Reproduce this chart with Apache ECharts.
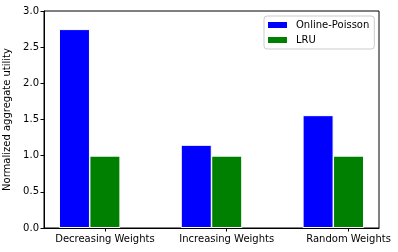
<!DOCTYPE html>
<html>
<head>
<meta charset="utf-8">
<script src="https://cdn.jsdelivr.net/npm/echarts@6/dist/echarts.min.js"></script>
<style>html,body{margin:0;padding:0;background:#fff}#c{width:398px;height:252px}</style>
</head>
<body>
<div id="c"></div>
<script>
const categories = ['Decreasing Weights', 'Increasing Weights', 'Random Weights'];
const seriesNames = ['Online-Poisson', 'LRU'];
const onlinePoisson = [2.75, 1.15, 1.56];
const lru = [1.0, 1.0, 1.0];
const yTickValues = [0, 0.5, 1.0, 1.5, 2.0, 2.5, 3.0];
const yLabel = 'Normalized aggregate utility';

const FONT = 'DejaVu Sans';
const chart = echarts.init(document.getElementById('c'), null, {renderer: 'canvas'});
const catPos = categories.map((c, i) => i);
chart.setOption({
  animation: false,
  backgroundColor: '#fff',
  grid: {left: 44, right: 19, top: 11, bottom: 24, show: true, borderColor: '#000', borderWidth: 1,
         backgroundColor: 'transparent', containLabel: false, outerBoundsMode: 'none'},
  legend: {
    orient: 'vertical', left: 264, top: 16,
    padding: [3, 5, 3, 4],
    itemWidth: 19, itemHeight: 6, itemGap: 3,
    borderColor: '#cccccc', borderWidth: 1, borderRadius: 3,
    icon: 'rect',
    itemStyle: {borderWidth: 0},
    textStyle: {fontFamily: FONT, fontSize: 10, color: '#000', lineHeight: 12, padding: [0, 0, 0, 4]},
    data: seriesNames
  },
  xAxis: {
    type: 'value', min: -0.5, max: 2.25,
    axisLine: {show: true, onZero: false, lineStyle: {color: '#000', width: 1}},
    axisTick: {show: true, length: 3.5, lineStyle: {color: '#000'}, customValues: catPos},
    axisLabel: {show: true, customValues: catPos, margin: 6, fontFamily: FONT, fontSize: 10, color: '#000',
      formatter: v => categories[Math.round(v)]},
    splitLine: {show: false}
  },
  yAxis: {
    type: 'value', min: yTickValues[0], max: yTickValues[yTickValues.length - 1], interval: 0.5,
    name: yLabel, nameLocation: 'middle', nameGap: 27,
    nameTextStyle: {fontFamily: FONT, fontSize: 10, color: '#000'},
    axisLine: {show: true, onZero: false, lineStyle: {color: '#000', width: 1}},
    axisTick: {show: true, length: 3.5, lineStyle: {color: '#000'}},
    axisLabel: {margin: 5, fontFamily: FONT, fontSize: 10, color: '#000', formatter: v => v.toFixed(1)},
    splitLine: {show: false}
  },
  series: [
    {name: seriesNames[0], type: 'bar', barWidth: 31, barGap: '-100%',
     itemStyle: {color: '#0000ff', borderColor: '#fff', borderWidth: 1},
     data: onlinePoisson.map((v, i) => [catPos[i] - 0.25, v])},
    {name: seriesNames[1], type: 'bar', barWidth: 31, barGap: '-100%',
     itemStyle: {color: '#008000', borderColor: '#fff', borderWidth: 1},
     data: lru.map((v, i) => [catPos[i], v])}
  ]
});
</script>
</body>
</html>
